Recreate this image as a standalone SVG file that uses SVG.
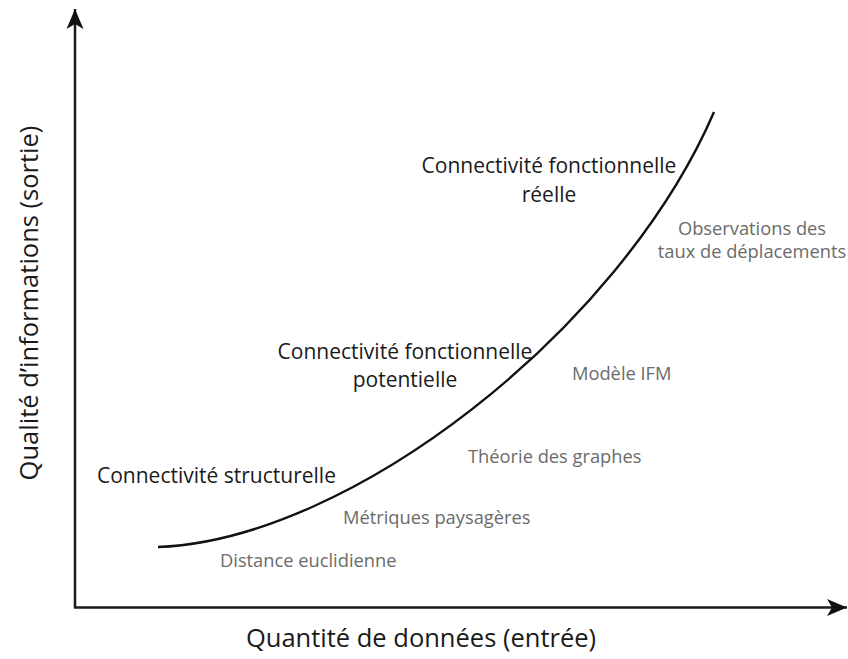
<svg xmlns="http://www.w3.org/2000/svg" width="848" height="659" viewBox="0 0 848 659">
<style>
.ax{stroke:#1a1a1a;stroke-width:2.5;fill:none}
.curve{stroke:#111;stroke-width:2.4;fill:none}
.main{font-family:"Open Sans","Noto Sans",sans-serif;font-size:21px;fill:#1a1a1a}
.sub{font-family:"Open Sans","Noto Sans",sans-serif;font-size:18.3px;fill:#6b6b6b}
.axl{font-family:"Open Sans","Noto Sans",sans-serif;font-size:25.5px;fill:#1a1a1a}
</style>
<defs>
<marker id="ah" markerUnits="userSpaceOnUse" markerWidth="24" markerHeight="20" refX="20" refY="8.5" orient="auto" viewBox="0 0 24 17">
<path d="M20,8.5 L0,0 L5,8.5 L0,17 Z" fill="#111"/>
</marker>
</defs>
<g id="axes">
<line class="ax" x1="75" y1="608" x2="75" y2="9" marker-end="url(#ah)"/>
<line class="ax" x1="74" y1="607.5" x2="847" y2="607.5" marker-end="url(#ah)"/>
</g>
<g id="connectors">
<path id="curve" class="curve" d="M158,547 C350,540 620,330 714,112"/>
</g>
<g id="n-reelle"><text class="main" text-anchor="middle" x="549" y="173">Connectivité fonctionnelle</text><text class="main" text-anchor="middle" x="549" y="202">réelle</text></g>
<g id="n-potentielle"><text class="main" text-anchor="middle" x="405" y="359">Connectivité fonctionnelle</text><text class="main" text-anchor="middle" x="405" y="387">potentielle</text></g>
<g id="n-structurelle"><text class="main" x="97" y="483">Connectivité structurelle</text></g>
<g id="n-observations"><text class="sub" text-anchor="middle" x="752" y="235">Observations des</text><text class="sub" text-anchor="middle" x="752" y="258">taux de déplacements</text></g>
<g id="n-ifm"><text class="sub" x="572" y="380">Modèle IFM</text></g>
<g id="n-graphes"><text class="sub" x="468" y="463">Théorie des graphes</text></g>
<g id="n-metriques"><text class="sub" x="343" y="524">Métriques paysagères</text></g>
<g id="n-distance"><text class="sub" x="220" y="567">Distance euclidienne</text></g>
<g id="axis-labels">
<text class="axl" text-anchor="middle" x="421" y="647">Quantité de données (entrée)</text>
<text class="axl" text-anchor="middle" transform="translate(38,303) rotate(-90)">Qualité d’informations (sortie)</text>
</g>
</svg>
